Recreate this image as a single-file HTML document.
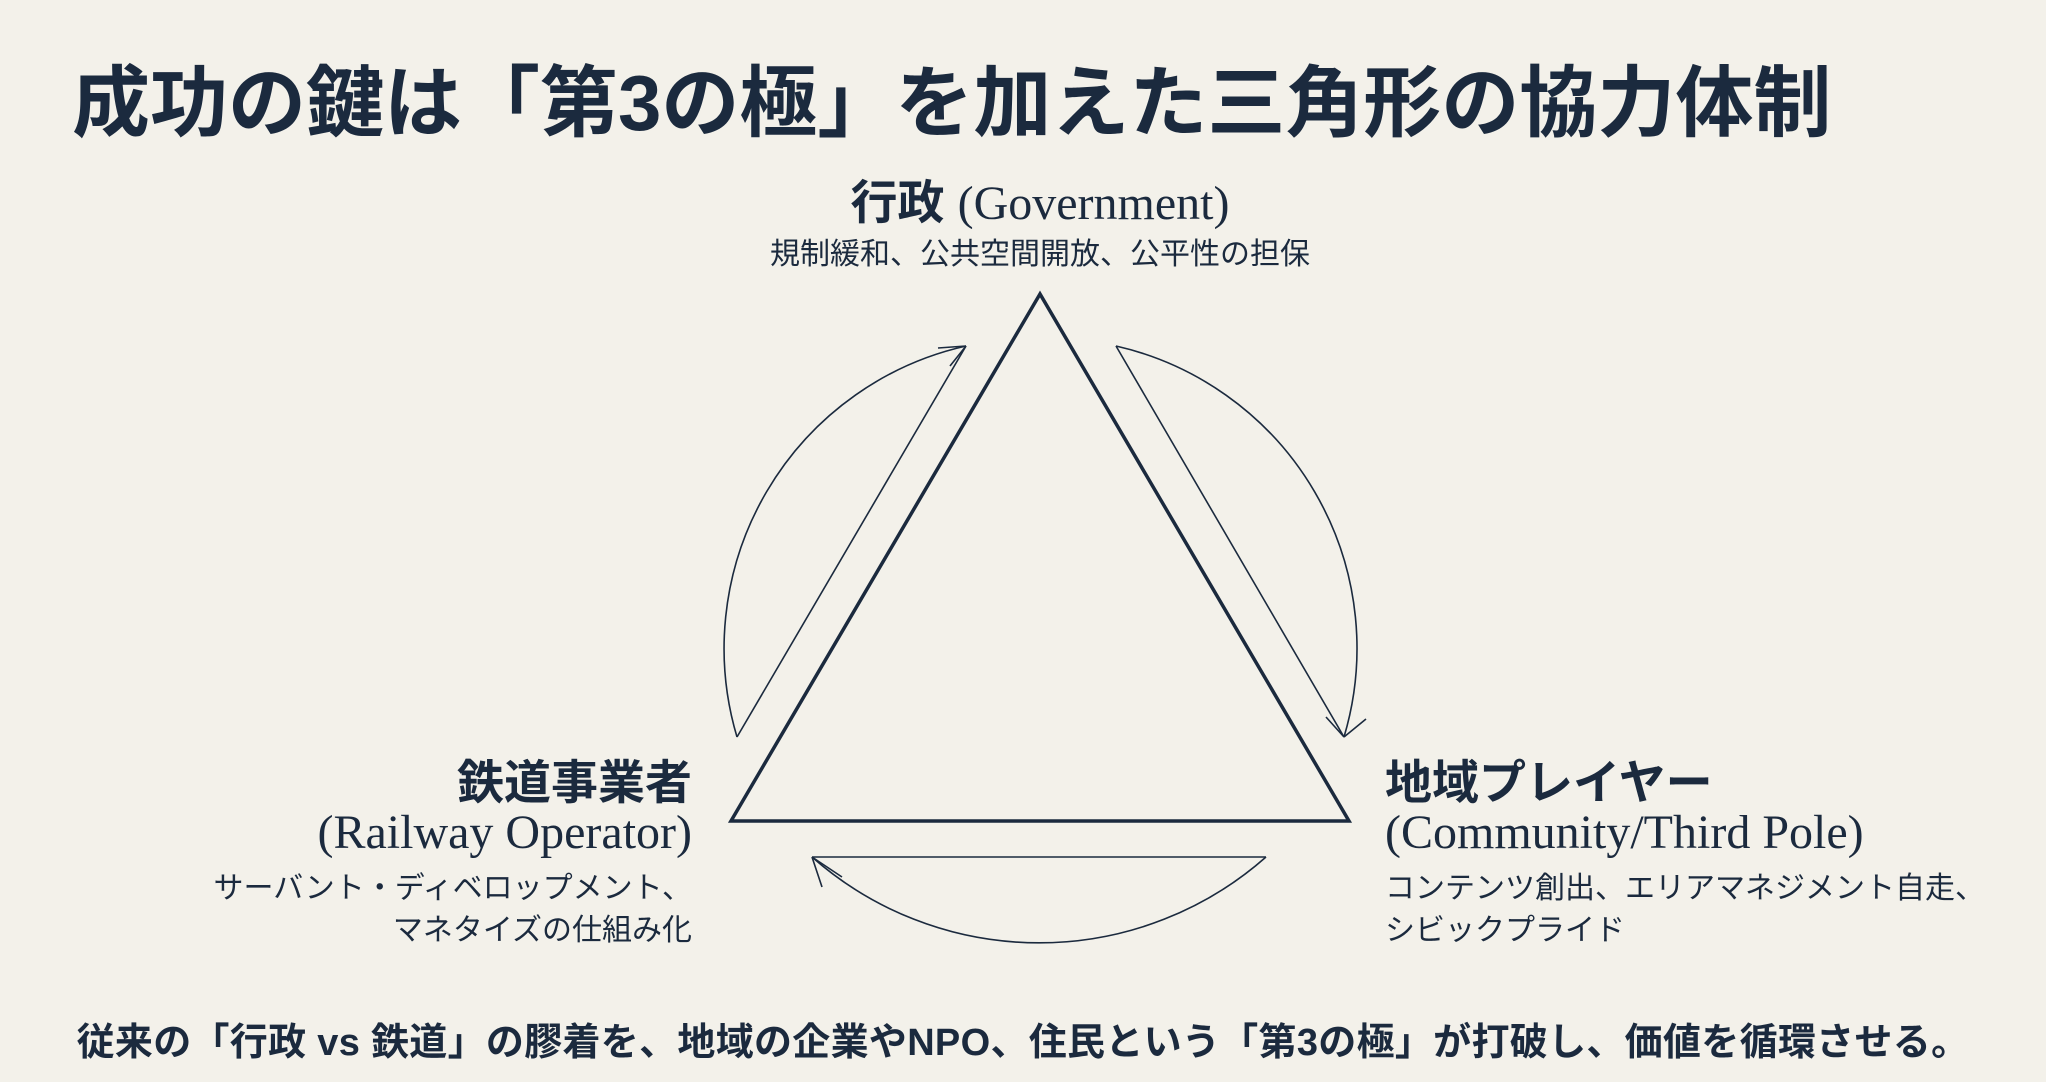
<!DOCTYPE html>
<html><head><meta charset="utf-8"><style>
html,body{margin:0;padding:0}
body{width:2046px;height:1082px;background:#f3f1ea;position:relative;overflow:hidden;color:#1b2a3e;font-family:"Liberation Sans","Noto Sans CJK JP",sans-serif}
.a{position:absolute;white-space:nowrap}
.t{left:72px;top:53px;font-size:78px;font-weight:700;letter-spacing:0px;line-height:100px}
.h{font-size:47px;font-weight:700;line-height:56px}
.s{font-family:"Liberation Serif","Noto Serif CJK SC",serif;font-weight:400;font-size:48px}
.p{font-size:30px;line-height:42px}
</style></head><body>
<div class="a t">成功の鍵は「第3の極」を加えた三角形の協力体制</div>
<div class="a h" style="left:0;width:2080px;text-align:center;top:175px">行政 <span class="s">(Government)</span></div>
<div class="a p" style="left:0;width:2080px;text-align:center;top:234px">規制緩和、公共空間開放、公平性の担保</div>

<div class="a h" style="right:1354px;top:755px;text-align:right">鉄道事業者</div>
<div class="a s" style="right:1354px;top:805px;line-height:56px">(Railway Operator)</div>
<div class="a p" style="right:1354px;top:868px;text-align:right">サーバント・ディベロップメント、<br>マネタイズの仕組み化</div>

<div class="a h" style="left:1385px;top:755px">地域プレイヤー</div>
<div class="a s" style="left:1385px;top:805px;line-height:56px">(Community/Third Pole)</div>
<div class="a p" style="left:1385px;top:868px">コンテンツ創出、エリアマネジメント自走、<br>シビックプライド</div>

<div class="a" style="left:0;width:2046px;text-align:center;top:1020px;font-size:38px;letter-spacing:0.3px;font-weight:700;line-height:46px">従来の「行政 vs 鉄道」の膠着を、地域の企業やNPO、住民という「第3の極」が打破し、価値を循環させる。</div>

<svg class="a" style="left:0;top:0" width="2046" height="1082" fill="none" stroke="#1b2a3e">
<polygon points="1040,294 731,821 1349,821" stroke-width="3.5" stroke-linejoin="miter"/>
<g stroke-width="1.6">
<path d="M737,737 L966,346"/>
<path d="M737,737 A310,310 0 0 1 966,346"/>
<path d="M966,346 l-28,2 M966,346 l-16,20"/>
<path d="M1116,346 L1344,737"/>
<path d="M1116,346 A310,310 0 0 1 1344,737"/>
<path d="M1344,737 l-18,-20 M1344,737 l22,-18"/>
<path d="M812,857 L1266,857"/>
<path d="M1266,857 A343,343 0 0 1 812,857"/>
<path d="M812,857 l30,20 M812,857 l10,30"/>
</g>
</svg>
</body></html>
